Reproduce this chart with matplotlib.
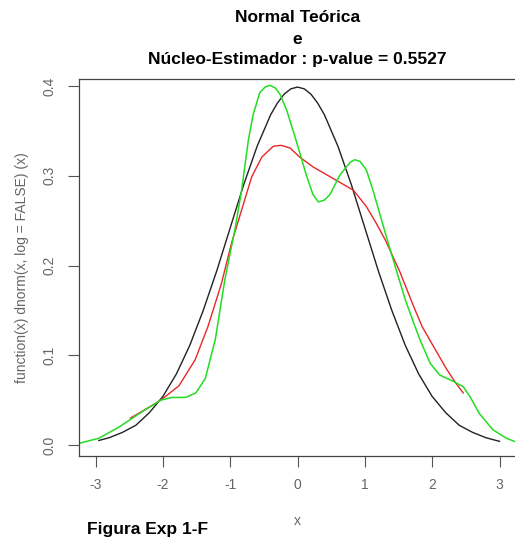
import matplotlib
matplotlib.use("Agg")
import matplotlib.pyplot as plt

plt.rcParams['font.family'] = ['Liberation Sans', 'DejaVu Sans']

# theoretical normal
x_norm = [-2.95, -2.8, -2.6, -2.4, -2.2, -2.0, -1.8, -1.6, -1.4, -1.2, -1.0, -0.8,
          -0.6, -0.4, -0.3, -0.2, -0.1, 0.0, 0.1, 0.2, 0.3, 0.4, 0.6, 0.8, 1.0, 1.2,
          1.4, 1.6, 1.8, 2.0, 2.2, 2.4, 2.6, 2.8, 3.0]
y_norm = [0.005, 0.008, 0.014, 0.022, 0.036, 0.054, 0.079, 0.111, 0.150, 0.194,
          0.242, 0.290, 0.333, 0.368, 0.381, 0.391, 0.397, 0.399, 0.397, 0.391,
          0.381, 0.368, 0.333, 0.290, 0.242, 0.194, 0.150, 0.111, 0.079, 0.054,
          0.036, 0.022, 0.014, 0.008, 0.004]

# red kernel estimate
x_red = [-2.48, -2.25, -2.03, -1.76, -1.52, -1.33, -1.13, -0.98, -0.83, -0.68,
         -0.53, -0.36, -0.24, -0.11, 0.03, 0.23, 0.53, 0.83, 1.02, 1.17, 1.30,
         1.52, 1.71, 1.85, 2.01, 2.21, 2.34, 2.46]
y_red = [0.030, 0.040, 0.050, 0.066, 0.095, 0.132, 0.180, 0.225, 0.262, 0.299,
         0.321, 0.333, 0.334, 0.331, 0.321, 0.310, 0.297, 0.284, 0.266, 0.247,
         0.229, 0.193, 0.157, 0.132, 0.111, 0.085, 0.070, 0.058]

# green kernel estimate
x_green = [-3.23, -2.95, -2.65, -2.35, -2.03, -1.86, -1.66, -1.51, -1.37, -1.22,
           -1.08, -0.93, -0.83, -0.73, -0.66, -0.56, -0.48, -0.41, -0.33, -0.26,
           -0.16, -0.015, 0.13, 0.23, 0.31, 0.40, 0.48, 0.63, 0.78, 0.85, 0.93,
           1.02, 1.12, 1.22, 1.32, 1.45, 1.60, 1.72, 1.82, 1.97, 2.11, 2.31, 2.46,
           2.56, 2.70, 2.90, 3.10, 3.22]
y_green = [0.002, 0.0075, 0.020, 0.035, 0.050, 0.053, 0.053, 0.058, 0.074, 0.118,
           0.184, 0.240, 0.284, 0.340, 0.368, 0.393, 0.399, 0.401, 0.398, 0.391,
           0.373, 0.338, 0.301, 0.279, 0.271, 0.273, 0.279, 0.301, 0.315, 0.318,
           0.316, 0.307, 0.284, 0.258, 0.232, 0.199, 0.162, 0.137, 0.117, 0.091,
           0.078, 0.071, 0.065, 0.054, 0.035, 0.017, 0.0075, 0.004]

xticks = [-3, -2, -1, 0, 1, 2, 3]
yticks = [0.0, 0.1, 0.2, 0.3, 0.4]
ylabels = ['0.0', '0.1', '0.2', '0.3', '0.4']

fig = plt.figure(figsize=(5.15, 5.44), dpi=100)
ax = fig.add_axes([0.1534, 0.1618, 0.848, 0.693])

ax.plot(x_norm, y_norm, color='#222222', lw=1.0)
ax.plot(x_red, y_red, color='#e82828', lw=1.0)
ax.plot(x_green, y_green, color='#22dd22', lw=1.1)

ax.set_xlim(-3.245, 3.24)
ax.set_ylim(-0.0123, 0.408)
ax.set_xticks(xticks)
ax.set_xticklabels([str(t) for t in xticks])
ax.set_yticks(yticks)
ax.set_yticklabels(ylabels, rotation=90, va='center')
ax.tick_params(length=8, width=0.8, color='#555555', labelcolor='#666666',
               labelsize=10, pad=8)
for s in ax.spines.values():
    s.set_color('#444444')
    s.set_linewidth(0.9)

ax.set_xlabel('x', color='#666666', fontsize=10, labelpad=16)
ax.set_ylabel('function(x) dnorm(x, log = FALSE) (x)', color='#666666',
              fontsize=10, labelpad=10)

fig.text(0.578, 0.967, 'Normal Teórica', ha='center', va='center',
         fontsize=12.5, fontweight='bold')
fig.text(0.578, 0.928, 'e', ha='center', va='center', fontsize=12.5, fontweight='bold')
fig.text(0.578, 0.890, 'Núcleo-Estimador : p-value = 0.5527', ha='center',
         va='center', fontsize=12.5, fontweight='bold')
fig.text(0.168, 0.026, 'Figura Exp 1-F', ha='left', va='center',
         fontsize=12.5, fontweight='bold')

fig.savefig('out.png', dpi=100)
